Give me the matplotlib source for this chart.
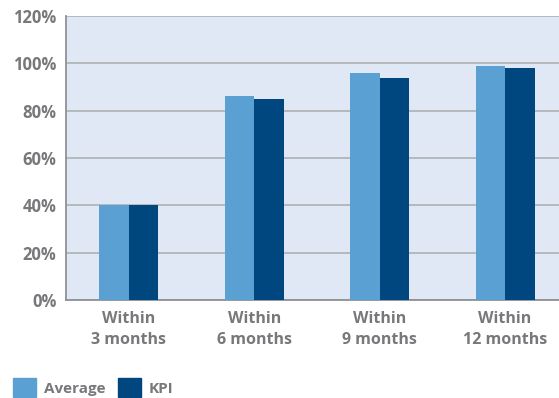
import numpy as np
import matplotlib.pyplot as plt
from matplotlib.patches import Patch

categories = ['Within\n3 months', 'Within\n6 months', 'Within\n9 months', 'Within\n12 months']
average = [40, 86, 96, 99]
kpi = [40, 85, 94, 98]
yticks = [0, 20, 40, 60, 80, 100, 120]

light = '#5BA0D3'
dark = '#00467F'
grey_text = '#77787B'

plt.rcParams['font.family'] = ['Open Sans', 'DejaVu Sans']
plt.rcParams['font.weight'] = 'bold'

fig = plt.figure(figsize=(5.59, 3.98), dpi=100)
ax = fig.add_axes([66 / 559, 98 / 398, 493 / 559, 284 / 398])
ax.set_facecolor('#E1E8F5')

x = np.arange(len(categories))
w = 0.235
ax.bar(x - w / 2, average, w, color=light, zorder=3)
ax.bar(x + w / 2, kpi, w, color=dark, zorder=3)

ax.set_xlim(-0.5, 3.43)
ax.set_ylim(0, 120)
ax.set_yticks(yticks)
ax.set_yticklabels([f'{t}%' for t in yticks])
ax.set_xticks(x)
ax.set_xticklabels(categories, linespacing=1.4)
ax.yaxis.grid(True, color='#B2B6BA', linewidth=1.3, zorder=0)
ax.tick_params(length=0, labelsize=11.5, labelcolor=grey_text)
ax.tick_params(axis='y', labelsize=12, pad=7)
ax.tick_params(axis='x', pad=8)
for s in ['top', 'right']:
    ax.spines[s].set_visible(False)
for s in ['left', 'bottom']:
    ax.spines[s].set_color('#8E9195')
    ax.spines[s].set_linewidth(1.3)

handles = [Patch(color=light, label='Average'), Patch(color=dark, label='KPI')]
leg = fig.legend(handles=handles, loc='lower left', bbox_to_anchor=(-0.002, -0.033),
                 ncol=2, frameon=False, fontsize=11, handlelength=1.55,
                 handleheight=1.55, handletextpad=0.5, columnspacing=0.8)
for t in leg.get_texts():
    t.set_color(grey_text)

fig.savefig('out.png', dpi=100)
